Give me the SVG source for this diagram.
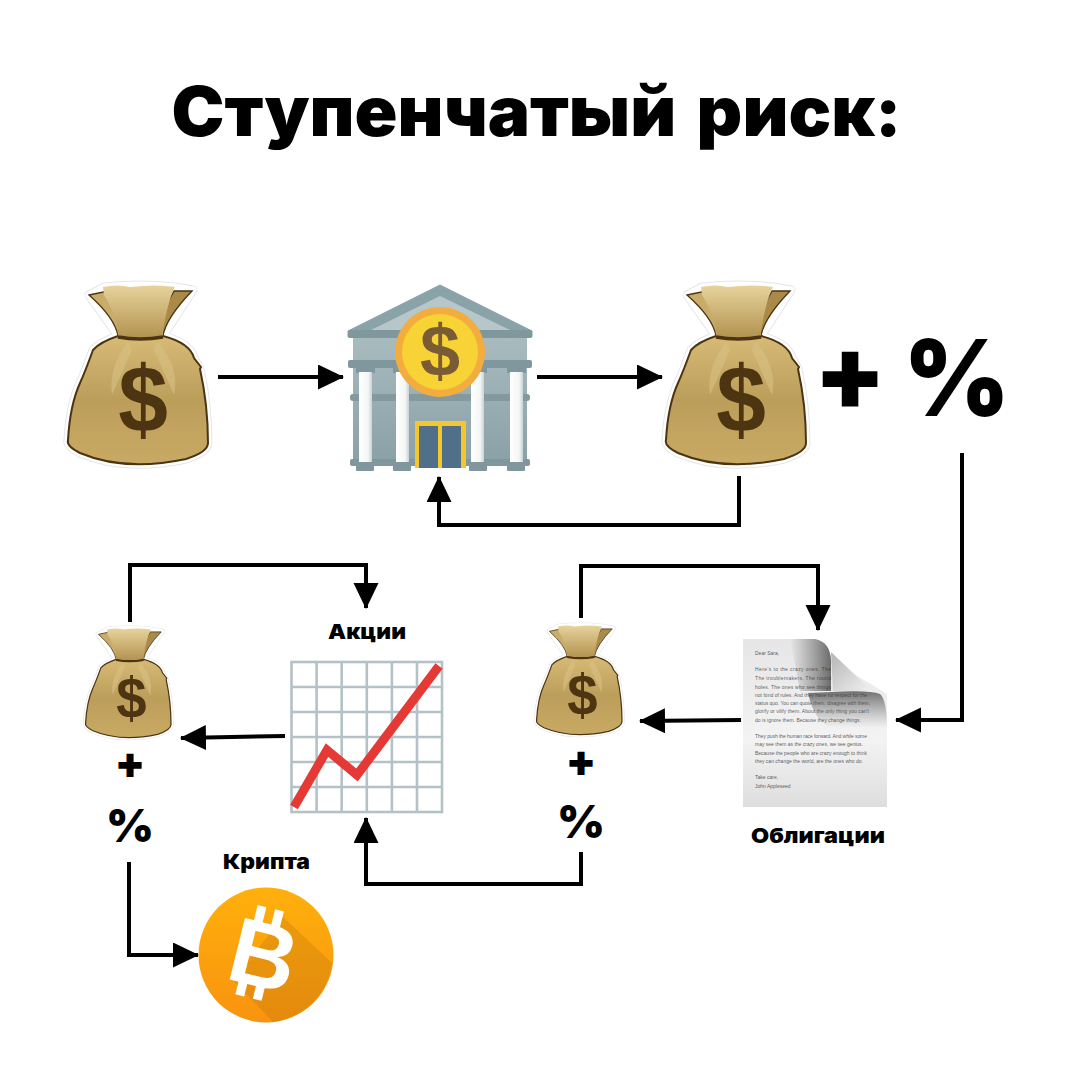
<svg xmlns="http://www.w3.org/2000/svg" xmlns:xlink="http://www.w3.org/1999/xlink" width="1075" height="1080" viewBox="0 0 1075 1080">
<style>
.h{font-family:Inter,"Liberation Sans",sans-serif;font-weight:900;fill:#000;text-anchor:middle}
.l{font-size:20.500px}
.c{fill:none;stroke:#000;stroke-width:4}
.d{font-family:"Liberation Sans",sans-serif;font-size:5px;fill:#333;fill-opacity:.8}
.g{stroke:#b4c1c6;stroke-width:2.600;fill:none}
.col{fill:url(#colw)}
.cap{fill:#7f979d}
</style>
<defs>
<marker id="a" markerUnits="userSpaceOnUse" markerWidth="26" markerHeight="26" refX="25" refY="12.500" orient="auto"><path d="M0 0L26 12.500L0 25Z" fill="#000"/></marker>
<linearGradient id="bagb" x1="0" y1="0" x2="0" y2="1"><stop offset="0" stop-color="#d6ba76"/><stop offset=".5" stop-color="#bc9e5b"/><stop offset="1" stop-color="#c9aa64"/></linearGradient>
<linearGradient id="bagn" x1="0" y1="0" x2="0" y2="1"><stop offset="0" stop-color="#e6d39c"/><stop offset="1" stop-color="#b3924f"/></linearGradient>
<linearGradient id="colw" x1="0" y1="0" x2="1" y2="0"><stop offset="0" stop-color="#fff"/><stop offset=".7" stop-color="#f4f6f6"/><stop offset="1" stop-color="#c9d2d3"/></linearGradient>
<linearGradient id="wall" x1="0" y1="0" x2="0" y2="1"><stop offset="0" stop-color="#a8bbbf"/><stop offset="1" stop-color="#8aa1a7"/></linearGradient>
<linearGradient id="btc" x1="0" y1="0" x2="0" y2="1"><stop offset="0" stop-color="#ffb00c"/><stop offset="1" stop-color="#f8930f"/></linearGradient>
<linearGradient id="page" x1="0" y1="0" x2="0" y2="1"><stop offset="0" stop-color="#e6e6e6"/><stop offset=".6" stop-color="#f3f3f3"/><stop offset="1" stop-color="#dedede"/></linearGradient>
<linearGradient id="sh1" x1="0" y1="0" x2="1" y2="0"><stop offset="0" stop-color="#555" stop-opacity="0"/><stop offset="1" stop-color="#444" stop-opacity=".95"/></linearGradient>
<linearGradient id="sh2" x1="0" y1="0" x2="0" y2="1"><stop offset="0" stop-color="#333" stop-opacity=".95"/><stop offset="1" stop-color="#666" stop-opacity="0"/></linearGradient>
<linearGradient id="fold" x1="0" y1="0" x2="1" y2="1"><stop offset="0" stop-color="#b5b5b5"/><stop offset="1" stop-color="#f4f4f4"/></linearGradient>
<path id="sil" d="M89 295L104 287Q140 283 175 287L193 290L163 336Q190 343 194 358L200 369Q208 405 208 443Q208 452 186 459Q125 472 80 453Q66 446 68 440Q70 405 80 383Q85 372 93 350Q100 342 118 336Z"/>
<g id="bag">
<use href="#sil" xlink:href="#sil" fill="#fff" stroke="#e6e6e6" stroke-width="9" stroke-linejoin="round"/>
<use href="#sil" xlink:href="#sil" fill="#fff" stroke="#fff" stroke-width="7" stroke-linejoin="round"/>
<path d="M118 336Q100 342 93 350Q85 372 80 383Q70 405 68 440Q66 446 80 453Q125 472 186 459Q208 452 208 443Q208 405 200 369L201 367L194 358Q190 343 163 336Z" fill="url(#bagb)" stroke="#4b3412" stroke-width="2"/>
<path d="M128 342Q108 368 112 395L132 350ZM158 342Q180 368 174 395L154 350Z" fill="#d9c184" opacity=".6"/>
<path d="M89 295L108 291L132 331L118 336Q115 318 89 295Z" fill="#c9ac6a" stroke="#4b3412" stroke-width="1.300"/>
<path d="M192 291L174 291L152 331L163 336Q166 318 192 291Z" fill="#a98a49" stroke="#4b3412" stroke-width="1.300"/>
<path d="M103 287Q118 284 130 287Q155 284 175 287Q168 300 163 331L163 336Q140 340 118 336Q118 318 104 295Z" fill="url(#bagn)"/>
<path d="M118 337Q140 341 163 337" fill="none" stroke="#4b3412" stroke-width="3.500"/>
<text x="143" y="432" transform="translate(143 0) scale(.95 1) translate(-143 0)" font-family="Liberation Sans,sans-serif" font-weight="700" font-size="94" text-anchor="middle" fill="#4d3512">$</text>
</g>
</defs>

<text id="title" class="h" x="536.500" y="136" font-size="69" word-spacing="6" textLength="730" lengthAdjust="spacingAndGlyphs">Ступенчатый риск:</text>

<g id="connectors">
<path class="c" marker-end="url(#a)" d="M218 377H343"/>
<path class="c" marker-end="url(#a)" d="M537 377H662"/>
<path class="c" marker-end="url(#a)" d="M739 476V525H439V477"/>
<path class="c" marker-end="url(#a)" d="M962 453V720H896"/>
<path class="c" marker-end="url(#a)" d="M741 720L640 721"/>
<path class="c" marker-end="url(#a)" d="M581 618V566H818V630"/>
<path class="c" marker-end="url(#a)" d="M581 852V884H366V818"/>
<path class="c" marker-end="url(#a)" d="M285 736L181 738"/>
<path class="c" marker-end="url(#a)" d="M130 622V565H366V608"/>
<path class="c" marker-end="url(#a)" d="M129 862V955H198"/>
</g>

<g id="bag1"><use href="#bag" xlink:href="#bag"/></g>

<g id="bank">
<rect x="353" y="337" width="174" height="125" fill="url(#wall)"/>
<path d="M440 285L532 331V337H348V331Z" fill="#8aa3a9" stroke="#8aa3a9" stroke-linejoin="round"/>
<path d="M440 296L510 330H371Z" fill="#b6c6c9"/>
<rect x="348" y="330" width="184" height="8" rx="2" fill="#7f979d"/>
<rect x="348" y="360" width="184" height="8" rx="2" fill="#7f979d"/>
<rect x="350" y="394" width="180" height="7" rx="3" fill="#83999f"/>
<rect x="350" y="459" width="180" height="7" rx="2" fill="#7f979d"/>
<rect class="cap" x="356" y="368" width="19" height="5"/><rect class="cap" x="393" y="368" width="19" height="5"/><rect class="cap" x="468" y="368" width="19" height="5"/><rect class="cap" x="507" y="368" width="19" height="5"/>
<rect class="col" x="359" y="372" width="13" height="90"/><rect class="col" x="396" y="372" width="13" height="90"/><rect class="col" x="471" y="372" width="13" height="90"/><rect class="col" x="510" y="372" width="13" height="90"/>
<rect class="cap" x="356" y="465" width="18" height="6" rx="1"/><rect class="cap" x="393" y="465" width="18" height="6" rx="1"/><rect class="cap" x="469" y="465" width="18" height="6" rx="1"/><rect class="cap" x="507" y="465" width="18" height="6" rx="1"/>
<rect x="415" y="421" width="51" height="47" fill="#f5c62e"/>
<rect x="419" y="426" width="19" height="42" fill="#4f7088"/><rect x="442" y="426" width="19" height="42" fill="#4f7088"/>
<circle cx="440" cy="352" r="45" fill="#f2ad3e"/><circle cx="440" cy="352" r="38" fill="#f7d336"/>
<text x="440" y="376" font-family="Liberation Sans,sans-serif" font-weight="700" font-size="72" text-anchor="middle" fill="#7a5c34">$</text>
</g>

<g id="bag2"><use href="#bag" xlink:href="#bag" transform="translate(598 0)"/></g>
<text id="plus1" class="h" x="850" y="410" font-size="104">+</text>
<text id="pct1" class="h" x="0" y="416" font-size="106" transform="translate(956.500 0) scale(.960 1)">%</text>

<g id="bag3"><use href="#bag" xlink:href="#bag" transform="translate(85 627) scale(.61) translate(-67 -283)"/></g>
<text id="plus2" class="h" x="130" y="778" font-size="44">+</text>
<text id="pct2" class="h" x="130" y="842" font-size="46">%</text>

<g id="chart">
<rect x="291.500" y="662" width="150.500" height="150" fill="#fff" class="g"/>
<path class="g" d="M316.600 662V812M341.700 662V812M366.800 662V812M391.900 662V812M417 662V812M291.500 687H442M291.500 712H442M291.500 737H442M291.500 762H442M291.500 787H442"/>
<path d="M294 807L327 750L357 775L439 666" fill="none" stroke="#e53935" stroke-width="9" stroke-linejoin="miter"/>
</g>
<text id="lbl-stocks" class="h l" x="367" y="639" textLength="78" lengthAdjust="spacingAndGlyphs">Акции</text>

<g id="bag4"><use href="#bag" xlink:href="#bag" transform="translate(536 624) scale(.61) translate(-67 -283)"/></g>
<text id="plus3" class="h" x="581" y="776" font-size="44">+</text>
<text id="pct3" class="h" x="581" y="838" font-size="46">%</text>

<g id="doc">
<path d="M743 639H815Q830 642 831 660L887 694V807H743Z" fill="url(#page)"/>
<path d="M831 652L874 693L833 691Z" fill="url(#fold)"/>
<path d="M790 639H815Q830 642 831 660V691L800 691Z" fill="url(#sh1)" opacity=".8"/>
<text class="d" x="755" y="655">Dear Sara,</text>
<text class="d" x="755" y="671" textLength="76">Here's to the crazy ones. The</text>
<text class="d" x="755" y="680" textLength="76">The troublemakers. The round</text>
<text class="d" x="755" y="688.500" textLength="76">holes. The ones who see things</text>
<text class="d" x="755" y="697" textLength="112">not fond of rules. And they have no respect for the</text>
<text class="d" x="755" y="705" textLength="115">status quo. You can quote them, disagree with them,</text>
<text class="d" x="755" y="713" textLength="114">glorify or vilify them. About the only thing you can't</text>
<text class="d" x="755" y="721.500" textLength="106">do is ignore them. Because they change things.</text>
<text class="d" x="755" y="738" textLength="112">They push the human race forward. And while some</text>
<text class="d" x="755" y="746" textLength="108">may see them as the crazy ones, we see genius.</text>
<text class="d" x="755" y="755" textLength="112">Because the people who are crazy enough to think</text>
<text class="d" x="755" y="763" textLength="108">they can change the world, are the ones who do.</text>
<text class="d" x="755" y="779">Take care,</text>
<text class="d" x="755" y="788">John Appleseed</text>
<path d="M832 692Q870 690 880 694Q887 700 887 728H835Q815 725 808 693Z" fill="url(#sh2)" opacity=".7"/>
</g>
<text id="lbl-bonds" class="h l" x="818" y="843" textLength="134" lengthAdjust="spacingAndGlyphs">Облигации</text>

<text id="lbl-crypto" class="h l" x="266.500" y="869" textLength="87" lengthAdjust="spacingAndGlyphs">Крипта</text>
<g id="bitcoin">
<circle cx="266" cy="955" r="67.500" fill="url(#btc)"/>
<path d="M283 917L332 963A67.500 67.500 0 0 1 273 1022L233 980Z" fill="#b8740a" opacity=".28"/>
<g transform="rotate(14 264 954)" fill="#fff">
<rect x="246" y="908" width="9" height="17"/><rect x="264" y="908" width="9" height="17"/><rect x="246" y="983" width="9" height="17"/><rect x="264" y="983" width="9" height="17"/>
<text x="264" y="987" font-family="Liberation Sans,sans-serif" font-weight="700" font-size="92" text-anchor="middle">B</text>
</g>
</g>
</svg>
